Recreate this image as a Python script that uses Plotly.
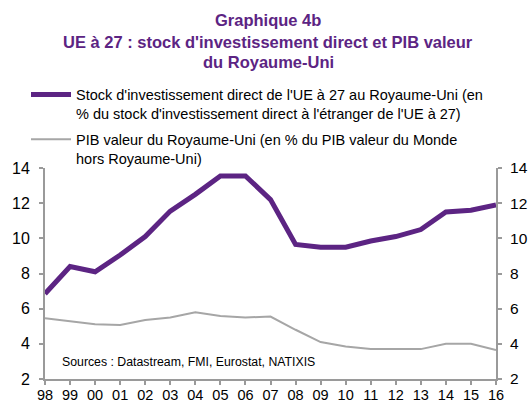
import plotly.graph_objects as go

years = [1998, 1999, 2000, 2001, 2002, 2003, 2004, 2005, 2006, 2007,
         2008, 2009, 2010, 2011, 2012, 2013, 2014, 2015, 2016]
year_labels = ["98", "99", "00", "01", "02", "03", "04", "05", "06", "07",
               "08", "09", "10", "11", "12", "13", "14", "15", "16"]
stock_ide = [6.85, 8.4, 8.1, 9.05, 10.1, 11.55, 12.5, 13.55, 13.55, 12.2,
             9.65, 9.5, 9.5, 9.85, 10.1, 10.5, 11.5, 11.6, 11.9]
pib_ru = [5.45, 5.3, 5.12, 5.07, 5.35, 5.5, 5.8, 5.58, 5.5, 5.55,
          4.8, 4.1, 3.85, 3.7, 3.7, 3.7, 4.0, 4.0, 3.65]
y_ticks = [2, 4, 6, 8, 10, 12, 14]
title_lines = ["Graphique 4b",
               "UE à 27 : stock d'investissement direct et PIB valeur",
               "du Royaume-Uni"]

PURPLE = "#5c2483"
GRAY = "#a6a6a6"
AXIS = "#9a9a9a"
FONT = "Liberation Sans, Arial, sans-serif"

W, H = 528, 403
L, R, T, B = 45, 32, 168, 24
ph = H - T - B


def py(pixel_y):
    """paper y for a pixel row measured from the top of the figure"""
    return (H - B - pixel_y) / ph


fig = go.Figure()
fig.add_trace(go.Scatter(
    x=years, y=stock_ide, mode="lines",
    line=dict(color=PURPLE, width=5),
    legendgroup="a",
    name="Stock d'investissement direct de l'UE à 27 au Royaume-Uni (en<br>% du stock d'investissement direct à l'étranger de l'UE à 27)",
))
fig.add_trace(go.Scatter(
    x=years, y=pib_ru, mode="lines",
    line=dict(color=GRAY, width=2),
    legendgroup="b",
    name="PIB valeur du Royaume-Uni (en % du PIB valeur du Monde<br>hors Royaume-Uni)",
    yaxis="y2",
))

annotations = []
for txt, yc in zip(title_lines, [20, 42, 62]):
    annotations.append(dict(
        text="<b>" + txt + "</b>",
        x=0.4945, y=py(yc), xref="paper", yref="paper",
        xanchor="center", yanchor="middle", showarrow=False,
        font=dict(family=FONT, size=16.5, color=PURPLE),
    ))
annotations.append(dict(
    text="Sources : Datastream, FMI, Eurostat, NATIXIS",
    x=1998.6, y=2.97, xref="x", yref="y",
    xanchor="left", yanchor="middle", showarrow=False,
    font=dict(size=12.3, family=FONT, color="#000000"),
))

fig.update_layout(
    width=W, height=H,
    margin=dict(l=L, r=R, t=T, b=B, autoexpand=False),
    paper_bgcolor="white", plot_bgcolor="white",
    font=dict(family=FONT, color="#000000", size=12),
    showlegend=True,
    legend=dict(
        x=26 / W, y=0.805, xref="container", yref="container",
        xanchor="left", yanchor="top",
        orientation="v", valign="top",
        font=dict(family=FONT, size=14.5, color="#000000"),
        bgcolor="rgba(0,0,0,0)",
        itemwidth=40, tracegroupgap=4,
    ),
    xaxis=dict(
        range=[1998, 2016],
        tickvals=years, ticktext=year_labels,
        showgrid=False, zeroline=False,
        showline=True, linecolor=AXIS, linewidth=2,
        ticks="outside", ticklen=4, tickcolor=AXIS, tickwidth=1.5,
        ticklabelstandoff=-2,
        tickfont=dict(size=14.5, family=FONT),
        automargin=False,
    ),
    yaxis=dict(
        range=[2, 14], tickvals=y_ticks,
        showgrid=False, zeroline=False,
        showline=True, linecolor=AXIS, linewidth=2,
        ticks="outside", ticklen=4, tickcolor=AXIS, tickwidth=1.5,
        ticklabelstandoff=6,
        tickfont=dict(size=16, family=FONT),
        automargin=False,
    ),
    yaxis2=dict(
        range=[2, 14], tickvals=y_ticks,
        overlaying="y", side="right",
        showgrid=False, zeroline=False,
        showline=True, linecolor=AXIS, linewidth=2,
        ticks="outside", ticklen=4, tickcolor=AXIS, tickwidth=1.5,
        ticklabelstandoff=5,
        tickfont=dict(size=15.5, family=FONT),
        automargin=False,
    ),
    annotations=annotations,
)

fig.write_html(
    "out.html",
    config={"displayModeBar": False},
    post_script="document.body.style.margin='0px';document.body.style.overflow='hidden';",
)
